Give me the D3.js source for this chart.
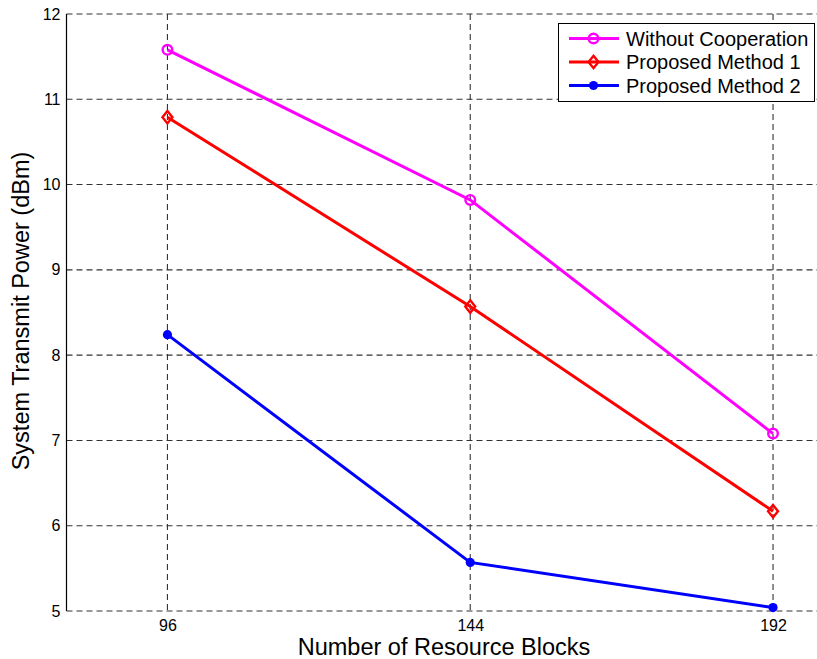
<!DOCTYPE html>
<html>
<head>
<meta charset="utf-8">
<script src="https://cdn.jsdelivr.net/npm/d3@7"></script>
<style>
  html, body { margin: 0; padding: 0; background: #fff; }
  svg { display: block; font-family: "Liberation Sans", Arial, sans-serif; }
</style>
</head>
<body>
<svg id="chart" width="817" height="659"></svg>
<script>
// Resource block counts on the x axis
const blocks = [96, 144, 192];
// System transmit power (dBm) for each scheme
const withoutCoop = [11.58, 9.82, 7.08];
const method1 = [10.79, 8.57, 6.17];
const method2 = [8.24, 5.57, 5.04];
const xTicks = [96, 144, 192];
const yTicks = [5, 6, 7, 8, 9, 10, 11, 12];
const seriesNames = ["Without Cooperation", "Proposed Method 1", "Proposed Method 2"];

const series = [
  { name: seriesNames[0], values: withoutCoop, color: "#ff00ff", marker: "circle" },
  { name: seriesNames[1], values: method1, color: "#ff0000", marker: "diamond" },
  { name: seriesNames[2], values: method2, color: "#0000ff", marker: "dot" }
];

const svg = d3.select("#chart");
const plotLeft = 66.5, plotRight = 823.5, plotTop = 14, plotBottom = 611;

const x = d3.scaleLinear().domain([80, 200]).range([plotLeft, plotRight]);
const y = d3.scaleLinear().domain([5, 12]).range([plotBottom, plotTop]);

// Dashed grid
const grid = svg.append("g").attr("stroke", "#333").attr("stroke-width", 1.1)
  .attr("stroke-dasharray", "6,4").attr("fill", "none");
yTicks.forEach(t => grid.append("line")
  .attr("x1", plotLeft).attr("x2", plotRight).attr("y1", y(t)).attr("y2", y(t)));
xTicks.forEach(t => grid.append("line")
  .attr("x1", x(t)).attr("x2", x(t)).attr("y1", plotTop).attr("y2", plotBottom));

// Left axis line
svg.append("line").attr("x1", plotLeft).attr("x2", plotLeft).attr("y1", plotTop).attr("y2", plotBottom)
  .attr("stroke", "#000").attr("stroke-width", 1.2);

// Tick labels
const yAxis = d3.axisLeft(y).tickValues(yTicks).tickFormat(d3.format("d")).tickSize(0).tickPadding(6);
const gy = svg.append("g").attr("transform", `translate(${plotLeft},0)`).call(yAxis);
gy.select(".domain").remove();
gy.selectAll("text").attr("font-size", 16).attr("fill", "#000")
  .attr("font-family", "Liberation Sans, Arial, sans-serif");

const xAxis = d3.axisBottom(x).tickValues(xTicks).tickFormat(d3.format("d")).tickSize(0).tickPadding(9);
const gx = svg.append("g").attr("transform", `translate(0,${plotBottom})`).call(xAxis);
gx.select(".domain").remove();
gx.selectAll("text").attr("font-size", 16).attr("fill", "#000")
  .attr("font-family", "Liberation Sans, Arial, sans-serif");

// Axis titles
svg.append("text").attr("x", 444).attr("y", 655)
  .attr("text-anchor", "middle").attr("font-size", 23.5).text("Number of Resource Blocks");
svg.append("text").attr("transform", `translate(29,311) rotate(-90)`)
  .attr("text-anchor", "middle").attr("font-size", 23.5).text("System Transmit Power (dBm)");

function drawMarker(g, type, cx, cy, color) {
  if (type === "circle") {
    g.append("circle").attr("cx", cx).attr("cy", cy).attr("r", 4.8)
      .attr("fill", "none").attr("stroke", color).attr("stroke-width", 2.4);
  } else if (type === "diamond") {
    const s = 6.2;
    g.append("path").attr("d", `M${cx},${cy - s}L${cx + s * 0.8},${cy}L${cx},${cy + s}L${cx - s * 0.8},${cy}Z`)
      .attr("fill", "none").attr("stroke", color).attr("stroke-width", 2.4);
  } else {
    g.append("circle").attr("cx", cx).attr("cy", cy).attr("r", 4.6).attr("fill", color);
  }
}

// Series lines and markers
const line = d3.line().x((d, i) => x(blocks[i])).y(d => y(d));
series.forEach(s => {
  const g = svg.append("g");
  g.append("path").attr("d", line(s.values)).attr("fill", "none")
    .attr("stroke", s.color).attr("stroke-width", 3);
  s.values.forEach((v, i) => drawMarker(g, s.marker, x(blocks[i]), y(v), s.color));
});

// Legend
const lg = svg.append("g");
lg.append("rect").attr("x", 558.5).attr("y", 23.5).attr("width", 256).attr("height", 78)
  .attr("fill", "#fff").attr("stroke", "#000").attr("stroke-width", 1);
series.forEach((s, i) => {
  const ly = 38.5 + i * 23.5;
  lg.append("line").attr("x1", 569).attr("x2", 619).attr("y1", ly).attr("y2", ly)
    .attr("stroke", s.color).attr("stroke-width", 3);
  drawMarker(lg, s.marker, 593.5, ly, s.color);
  lg.append("text").attr("x", 626).attr("y", ly + 7).attr("font-size", 20).text(s.name);
});
</script>
</body>
</html>
